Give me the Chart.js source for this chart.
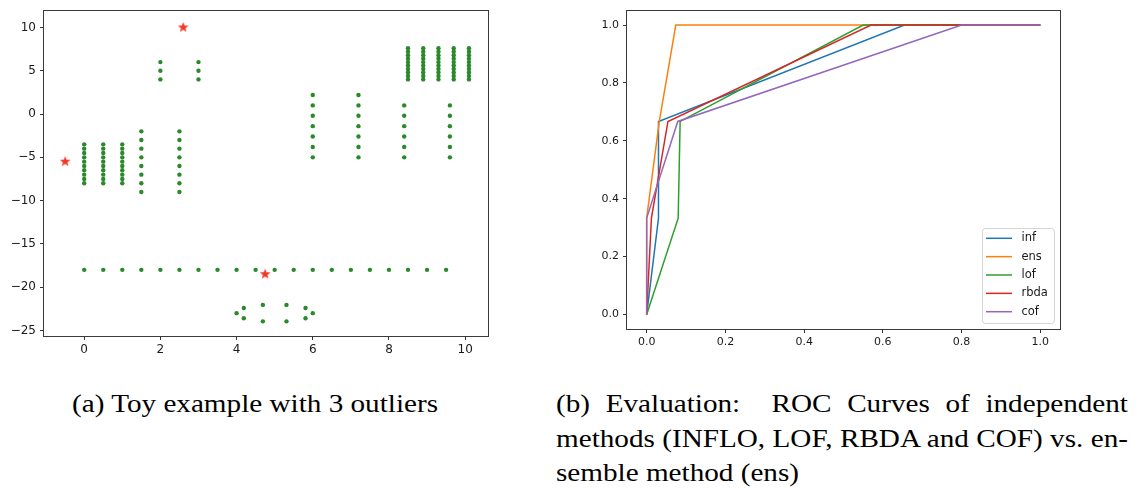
<!DOCTYPE html>
<html>
<head>
<meta charset="utf-8">
<script src="https://cdn.jsdelivr.net/npm/chart.js@4.4.0/dist/chart.umd.min.js"></script>
<style>
  html, body { margin: 0; padding: 0; background: #fff; width: 1139px; height: 492px; overflow: hidden; }
  canvas { position: absolute; }
  #cA { left: 0; top: 0; }
  #cB { left: 560px; top: 0; }
  .cap { position: absolute; font-family: "Liberation Serif", "Times New Roman", serif; font-size: 25px; line-height: 34.5px; color: #000; white-space: nowrap; transform-origin: 0 0; }
  #capA { left: 72px; top: 387px; }
  #capB { left: 556px; top: 387px; }
  #capB div { white-space: nowrap; }
  #capB .j { text-align: justify; text-align-last: justify; white-space: normal; }
</style>
</head>
<body>
<canvas id="cA" width="495" height="370"></canvas>
<canvas id="cB" width="510" height="370"></canvas>
<div class="cap" id="capA"><span id="capAText">(a) Toy example with 3 outliers</span></div>
<div class="cap" id="capB">
  <div class="j">(b) Evaluation:&nbsp; ROC Curves of independent</div>
  <div class="j">methods (INFLO, LOF, RBDA and COF) vs. en-</div>
  <div>semble method (ens)</div>
</div>
<script>
// ---------- Data: (a) toy example ----------
const groupA_x = [0, 0.5, 1];
const groupA_y = [-3.5, -4, -4.5, -5, -5.5, -6, -6.5, -7, -7.5, -8];
const groupB_x = [1.5, 2.5];
const groupB_y = [-2, -3, -4, -5, -6, -7, -8, -9];
const groupC_x = [2, 3];
const groupC_y = [6, 5, 4];
const groupD_x = [6, 7.2];
const groupD_y = [2.2, 1.0, -0.2, -1.4, -2.6, -3.8, -5.0];
const groupE_x = [8.4, 9.6];
const groupE_y = [1.0, -0.2, -1.4, -2.6, -3.8, -5.0];
const groupF_x = [8.5, 8.9, 9.3, 9.7, 10.1];
const groupF_y = [4.0, 4.4, 4.8, 5.2, 5.6, 6.0, 6.4, 6.8, 7.2, 7.6];
const rowLine_x = [0, 0.5, 1, 1.5, 2, 2.5, 3, 3.5, 4, 4.5, 5, 5.5, 6, 6.5, 7, 7.5, 8, 8.5, 9, 9.5];
const rowLine_y = [-18];
const ring_x = [4.0, 4.19, 4.19, 4.69, 4.69, 5.31, 5.31, 5.81, 5.81, 6.0];
const ring_y = [-23, -22.41, -23.59, -22.05, -23.95, -22.05, -23.95, -22.41, -23.59, -23];
const outlier_x = [-0.5, 2.6, 4.75];
const outlier_y = [-5.5, 10, -18.5];

const toyXTicks = [0, 2, 4, 6, 8, 10];
const toyYTicks = [10, 5, 0, -5, -10, -15, -20, -25];

// ---------- Data: (b) ROC curves ----------
const rocNames = ['inf', 'ens', 'lof', 'rbda', 'cof'];
const fpr_inf  = [0, 0.030, 0.030, 0.655, 1];
const tpr_inf  = [0, 0.333, 0.667, 1, 1];
const fpr_ens  = [0, 0, 0.032, 0.074, 1];
const tpr_ens  = [0, 0.333, 0.667, 1, 1];
const fpr_lof  = [0, 0.080, 0.085, 0.550, 1];
const tpr_lof  = [0, 0.333, 0.667, 1, 1];
const fpr_rbda = [0, 0.012, 0.054, 0.570, 1];
const tpr_rbda = [0, 0.333, 0.667, 1, 1];
const fpr_cof  = [0, 0, 0.079, 0.800, 1];
const tpr_cof  = [0, 0.333, 0.667, 1, 1];
const rocTicks = [0, 0.2, 0.4, 0.6, 0.8, 1.0];

// ---------- helpers ----------
function grid(xs, ys) {
  const pts = [];
  xs.forEach(x => ys.forEach(y => pts.push({x, y})));
  return pts;
}
function zip(xs, ys) { return xs.map((x, i) => ({x, y: ys[i]})); }
function makeStar(r, color) {
  const s = Math.ceil(r * 2 + 2);
  const c = document.createElement('canvas');
  c.width = s; c.height = s;
  const g = c.getContext('2d');
  g.fillStyle = color;
  g.beginPath();
  for (let i = 0; i < 10; i++) {
    const a = -Math.PI / 2 + i * Math.PI / 5;
    const rr = (i % 2) ? r * 0.42 : r;
    g.lineTo(s / 2 + rr * Math.cos(a), s / 2 + rr * Math.sin(a));
  }
  g.closePath();
  g.fill();
  return c;
}
const minus = v => String(v).replace('-', '\u2212');

const framePlugin = {
  id: 'frame',
  afterDatasetsDraw(chart) {
    const a = chart.chartArea, ctx = chart.ctx;
    ctx.save();
    ctx.strokeStyle = '#3a3a3a';
    ctx.lineWidth = 1;
    ctx.strokeRect(Math.round(a.left) - 0.5, Math.round(a.top) - 0.5,
                   Math.round(a.right - a.left) + 1, Math.round(a.bottom - a.top) + 1);
    ctx.restore();
  }
};

function axis(min, max, ticks, fmt, size, afterFitProp, afterFitVal, pad) {
  return {
    type: 'linear', min, max,
    afterBuildTicks: s => { s.ticks = ticks.map(v => ({value: v})); },
    afterFit: s => { s[afterFitProp] = afterFitVal; },
    border: { display: false },
    grid: { display: true, drawOnChartArea: false, drawTicks: true, tickLength: 4, color: '#333', lineWidth: 1 },
    ticks: { color: '#1a1a1a', padding: pad, font: { family: 'DejaVu Sans', size }, callback: fmt, maxRotation: 0, autoSkip: false }
  };
}

Chart.defaults.animation = false;
Chart.defaults.responsive = false;
Chart.defaults.devicePixelRatio = 1;

// ---------- Chart (a) ----------
const green = '#2a8a2a';
const inliers = [].concat(
  grid(groupA_x, groupA_y), grid(groupB_x, groupB_y), grid(groupC_x, groupC_y),
  grid(groupD_x, groupD_y), grid(groupE_x, groupE_y), grid(groupF_x, groupF_y),
  grid(rowLine_x, rowLine_y), zip(ring_x, ring_y)
);
new Chart(document.getElementById('cA'), {
  type: 'scatter',
  data: {
    datasets: [
      { label: 'outliers', data: zip(outlier_x, outlier_y), pointStyle: makeStar(5.6, '#f03a26'), pointRadius: 6, order: 0 },
      { label: 'inliers', data: inliers, pointRadius: 2.2, pointBackgroundColor: green, pointBorderWidth: 0, borderWidth: 0, order: 1 }
    ]
  },
  options: {
    layout: { padding: { left: 0, top: 4, right: 6, bottom: 0 } },
    plugins: { legend: { display: false }, tooltip: { enabled: false } },
    scales: {
      x: axis(-1.055, 10.6, toyXTicks, v => minus(v), 12, 'height', 34, 3),
      y: axis(-25.64, 11.88, toyYTicks, v => minus(v), 12, 'width', 44, 4)
    }
  },
  plugins: [framePlugin]
});

// ---------- Chart (b) ----------
const colors = ['#1f77b4', '#ff7f0e', '#2ca02c', '#d62728', '#9467bd'];
const rocFpr = [fpr_inf, fpr_ens, fpr_lof, fpr_rbda, fpr_cof];
const rocTpr = [tpr_inf, tpr_ens, tpr_lof, tpr_rbda, tpr_cof];

const legendPlugin = {
  id: 'innerLegend',
  afterDraw(chart) {
    const a = chart.chartArea, ctx = chart.ctx;
    const w = 72, h = 95;
    const x0 = a.right - 6 - w, y0 = a.bottom - 6 - h;
    ctx.save();
    ctx.beginPath();
    if (ctx.roundRect) ctx.roundRect(x0 + 0.5, y0 + 0.5, w, h, 3); else ctx.rect(x0 + 0.5, y0 + 0.5, w, h);
    ctx.fillStyle = 'rgba(255,255,255,0.85)';
    ctx.fill();
    ctx.strokeStyle = '#d4d4d4';
    ctx.lineWidth = 1;
    ctx.stroke();
    ctx.font = '11.5px "DejaVu Sans"';
    ctx.textBaseline = 'middle';
    ctx.fillStyle = '#1a1a1a';
    chart.data.datasets.forEach((ds, i) => {
      const yy = y0 + 10.3 + i * 18.35;
      ctx.strokeStyle = ds.borderColor;
      ctx.lineWidth = 1.5;
      ctx.beginPath();
      ctx.moveTo(x0 + 4, yy); ctx.lineTo(x0 + 30, yy);
      ctx.stroke();
      ctx.fillText(ds.label, x0 + 39.5, yy);
    });
    ctx.restore();
  }
};

new Chart(document.getElementById('cB'), {
  type: 'scatter',
  data: {
    datasets: rocNames.map((n, i) => ({
      label: n,
      data: zip(rocFpr[i], rocTpr[i]),
      showLine: true,
      borderColor: colors[i],
      backgroundColor: colors[i],
      borderWidth: 1.5,
      pointRadius: 0,
      order: rocNames.length - i
    }))
  },
  options: {
    layout: { padding: { left: 0, top: 7, right: 10, bottom: 0 } },
    plugins: { legend: { display: false }, tooltip: { enabled: false } },
    scales: {
      x: axis(-0.05, 1.05, rocTicks, v => Number(v).toFixed(1), 11, 'height', 41, 3),
      y: axis(-0.05, 1.05, rocTicks, v => Number(v).toFixed(1), 11, 'width', 67, 4)
    }
  },
  plugins: [framePlugin, legendPlugin]
});

// ---------- caption horizontal scaling ----------
(function () {
  const span = document.getElementById('capAText');
  const natural = span.getBoundingClientRect().width;
  const k = 366 / natural;
  document.getElementById('capA').style.transform = 'scaleX(' + k + ')';
  const capB = document.getElementById('capB');
  capB.style.width = (572 / k) + 'px';
  capB.style.transform = 'scaleX(' + k + ')';
})();
</script>
</body>
</html>
